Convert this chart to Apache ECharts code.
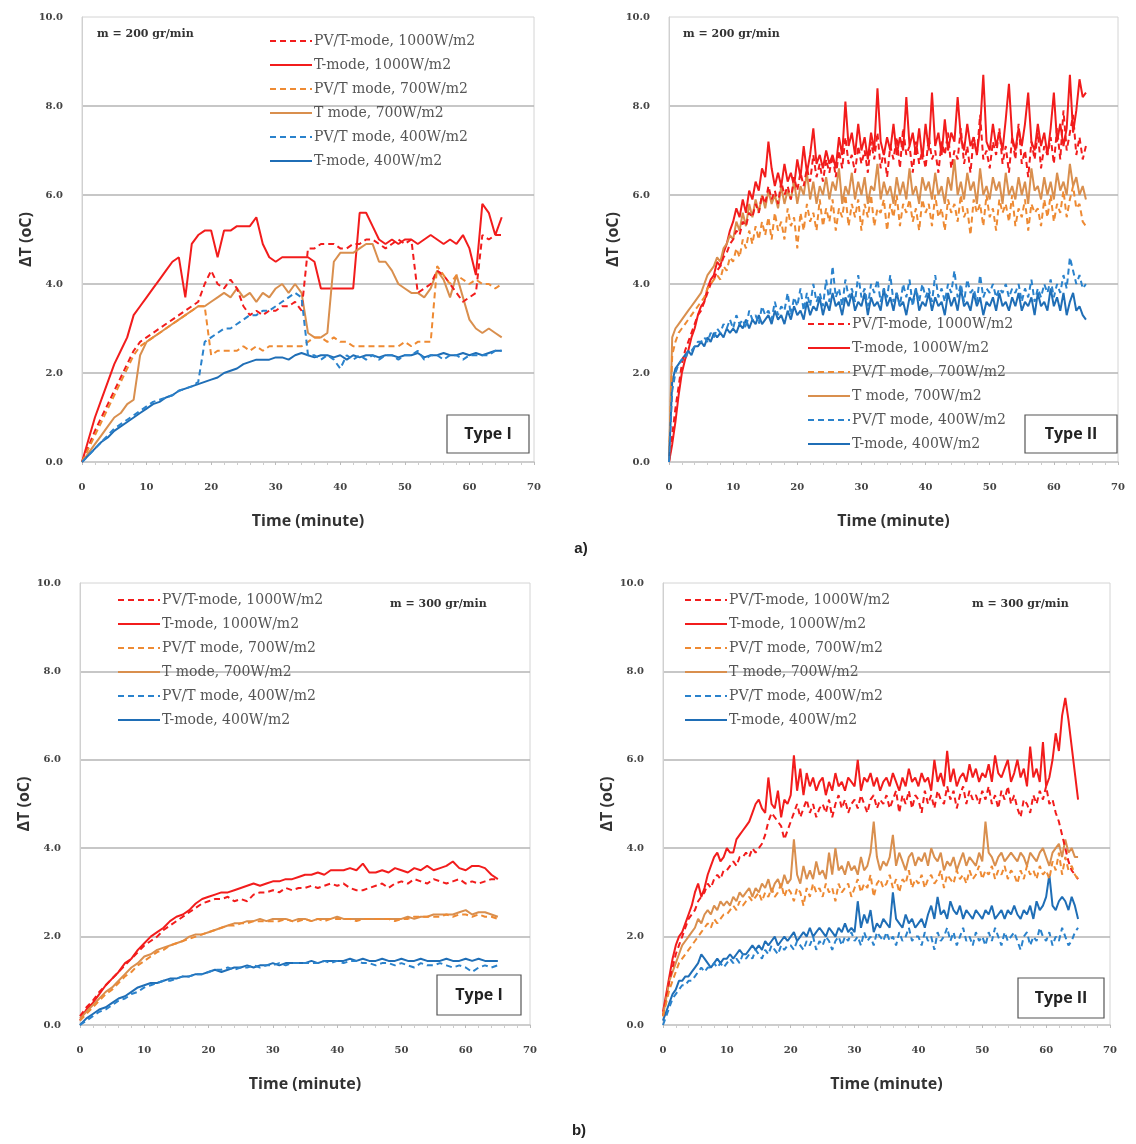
<!DOCTYPE html>
<html>
<head>
<meta charset="utf-8">
<script src="https://cdn.jsdelivr.net/npm/echarts@6/dist/echarts.min.js"></script>
<style>html,body{margin:0;padding:0;background:#fff}#c{width:1136px;height:1144px}</style>
</head>
<body>
<div id="c"></div>
<script>
// ---------- DATA ----------
const seriesNames = ['PV/T-mode, 1000W/m2','T-mode, 1000W/m2','PV/T mode, 700W/m2','T mode, 700W/m2','PV/T mode, 400W/m2','T-mode, 400W/m2'];
const panelNotes = ['m = 200 gr/min','m = 200 gr/min','m = 300 gr/min','m = 300 gr/min'];
const panelTypes = ['Type I','Type II','Type I','Type II'];
const xTicks = [0,10,20,30,40,50,60,70];
const yTicks = [0,2,4,6,8,10];

// time (minute), 1-min step
const timeA = [0,1,2,3,4,5,6,7,8,9,10,11,12,13,14,15,16,17,18,19,20,21,22,23,24,25,26,27,28,29,30,31,32,33,34,35,36,37,38,39,40,41,42,43,44,45,46,47,48,49,50,51,52,53,54,55,56,57,58,59,60,61,62,63,64,65];
// time (minute), 0.5-min step
const timeB = [0,0.5,1,1.5,2,2.5,3,3.5,4,4.5,5,5.5,6,6.5,7,7.5,8,8.5,9,9.5,10,10.5,11,11.5,12,12.5,13,13.5,14,14.5,15,15.5,16,16.5,17,17.5,18,18.5,19,19.5,20,20.5,21,21.5,22,22.5,23,23.5,24,24.5,25,25.5,26,26.5,27,27.5,28,28.5,29,29.5,30,30.5,31,31.5,32,32.5,33,33.5,34,34.5,35,35.5,36,36.5,37,37.5,38,38.5,39,39.5,40,40.5,41,41.5,42,42.5,43,43.5,44,44.5,45,45.5,46,46.5,47,47.5,48,48.5,49,49.5,50,50.5,51,51.5,52,52.5,53,53.5,54,54.5,55,55.5,56,56.5,57,57.5,58,58.5,59,59.5,60,60.5,61,61.5,62,62.5,63,63.5,64,64.5,65];

// (a) Type I, 200 gr/min
const aL_PV1000 = [0.0,0.35,0.7,1.0,1.3,1.6,1.9,2.2,2.5,2.7,2.8, 2.9,3.0,3.1,3.2,3.3,3.4,3.5,3.6,4.0,4.3,4.0, 3.9,4.1,3.9,3.5,3.3,3.4,3.3,3.4,3.4,3.5,3.5, 3.6,3.4,4.8,4.8,4.9,4.9,4.9,4.8,4.8,4.9,4.9, 5.0,5.0,4.9,4.8,4.9,5.0,4.9,5.0,3.8,3.9,4.0, 4.3,4.2,4.0,3.8,3.6,3.7,3.8,5.1,5.0,5.1,5.1];
const aL_T1000 = [0.0,0.5,1.0,1.4,1.8,2.2,2.5,2.8,3.3,3.5,3.7, 3.9,4.1,4.3,4.5,4.6,3.7,4.9,5.1,5.2,5.2,4.6, 5.2,5.2,5.3,5.3,5.3,5.5,4.9,4.6,4.5,4.6,4.6, 4.6,4.6,4.6,4.5,3.9,3.9,3.9,3.9,3.9,3.9,5.6, 5.6,5.3,5.0,4.9,5.0,4.9,5.0,5.0,4.9,5.0,5.1, 5.0,4.9,5.0,4.9,5.1,4.8,4.2,5.8,5.6,5.1,5.5];
const aL_PV700 = [0.0,0.3,0.6,0.9,1.2,1.5,1.8,2.1,2.4,2.6,2.7, 2.8,2.9,3.0,3.1,3.2,3.3,3.4,3.5,3.5,2.4,2.5, 2.5,2.5,2.5,2.6,2.5,2.6,2.5,2.6,2.6,2.6,2.6, 2.6,2.6,2.7,2.8,2.8,2.7,2.8,2.7,2.7,2.6,2.6, 2.6,2.6,2.6,2.6,2.6,2.6,2.7,2.6,2.7,2.7,2.7, 4.4,4.2,4.0,4.2,4.1,4.0,4.1,4.0,4.0,3.9,4.0];
const aL_T700 = [0.0,0.2,0.4,0.6,0.8,1.0,1.1,1.3,1.4,2.4,2.7, 2.8,2.9,3.0,3.1,3.2,3.3,3.4,3.5,3.5,3.6,3.7, 3.8,3.7,3.9,3.7,3.8,3.6,3.8,3.7,3.9,4.0,3.8, 4.0,3.8,2.9,2.8,2.8,2.9,4.5,4.7,4.7,4.7,4.8, 4.9,4.9,4.5,4.5,4.3,4.0,3.9,3.8,3.8,3.7,3.9, 4.3,4.1,3.7,4.2,3.7,3.2,3.0,2.9,3.0,2.9,2.8];
const aL_PV400 = [0.0,0.15,0.3,0.45,0.6,0.75,0.85,0.95,1.05,1.15,1.25, 1.35,1.4,1.45,1.5,1.6,1.65,1.7,1.8,2.7,2.8,2.9, 3.0,3.0,3.1,3.2,3.3,3.3,3.4,3.4,3.5,3.6,3.7, 3.8,3.7,2.4,2.4,2.3,2.4,2.3,2.1,2.4,2.3,2.4, 2.3,2.4,2.3,2.4,2.4,2.3,2.4,2.4,2.5,2.3,2.4, 2.4,2.3,2.4,2.4,2.3,2.4,2.4,2.4,2.4,2.5,2.5];
const aL_T400 = [0.0,0.15,0.3,0.45,0.55,0.7,0.8,0.9,1.0,1.1,1.2, 1.3,1.35,1.45,1.5,1.6,1.65,1.7,1.75,1.8,1.85,1.9, 2.0,2.05,2.1,2.2,2.25,2.3,2.3,2.3,2.35,2.35,2.3, 2.4,2.45,2.4,2.35,2.4,2.4,2.35,2.4,2.3,2.4,2.35, 2.4,2.4,2.35,2.4,2.4,2.35,2.4,2.4,2.45,2.35,2.4, 2.4,2.45,2.4,2.4,2.45,2.4,2.45,2.4,2.45,2.5,2.5];

// (a) Type II, 200 gr/min
const aR_PV1000 = [0.0,0.6,1.2,1.7,2.2,2.5,2.7,2.9,3.1,3.3, 3.4,3.6,3.8,4.0,4.1,4.3,4.4,4.6,4.7,4.9, 5.0,5.2,5.1,5.4,5.3,5.6,5.5,5.8,5.6,6.0, 5.8,6.2,5.9,6.1,5.8,6.3,6.0,6.2,5.9,6.4, 6.1,6.5,6.2,6.6,6.3,6.9,6.4,6.7,6.3,6.8, 6.5,6.9,6.4,7.0,6.6,7.3,6.7,6.9,6.5,7.1, 6.7,7.0,6.5,7.2,6.8,7.4,6.6,7.0,6.4,7.1, 6.8,7.3,6.6,7.5,6.9,7.1,6.5,7.2,6.7,7.0, 6.6,7.3,6.8,7.0,6.5,7.2,6.9,7.4,6.6,7.0, 6.8,7.5,6.7,7.1,6.5,7.3,6.9,7.8,6.8,7.0, 6.6,7.2,6.9,7.5,6.7,7.1,6.5,7.3,6.8,7.6, 6.7,7.0,6.4,7.2,6.8,7.4,6.6,7.1,6.9,7.3, 6.7,7.5,6.8,7.9,7.0,7.4,7.8,6.9,7.3,6.8, 7.1];
const aR_T1000 = [0.0,0.4,0.9,1.5,2.0,2.3,2.5,2.8,3.0,3.3, 3.5,3.6,3.9,4.1,4.2,4.5,4.4,4.7,4.9,5.2, 5.4,5.7,5.5,5.9,5.6,6.1,5.9,6.3,6.1,6.6, 6.4,7.2,6.6,6.2,6.5,6.2,6.7,6.3,6.5,6.2, 6.8,6.4,7.1,6.5,6.9,7.5,6.7,6.9,6.6,7.0, 6.7,6.9,6.6,7.3,6.9,8.1,7.1,7.4,6.9,7.6, 7.0,7.3,6.8,7.4,7.0,8.4,7.2,6.9,7.3,7.0, 7.6,6.9,7.3,7.0,8.2,7.1,7.4,6.9,7.5,6.8, 7.6,7.0,8.3,7.1,7.4,6.9,7.7,7.0,7.4,7.2, 8.2,7.3,7.0,7.6,7.1,7.3,6.9,7.5,8.7,7.2, 7.0,7.6,7.1,7.4,7.0,7.7,8.5,7.3,7.0,7.5, 7.1,7.6,8.3,7.2,7.0,7.6,7.1,7.4,6.9,7.5, 8.3,7.2,7.6,7.1,7.5,8.7,7.4,7.9,8.6,8.2, 8.3];
const aR_PV700 = [0.0,2.4,2.7,2.9,3.0,3.1,3.2,3.3,3.4,3.5, 3.6,3.7,3.9,4.0,4.1,4.2,4.1,4.4,4.3,4.6, 4.5,4.8,4.6,5.0,4.8,5.2,4.9,5.3,5.0,5.4, 5.1,5.5,5.0,5.6,5.2,5.4,5.0,5.7,5.3,5.5, 4.8,5.6,5.2,5.8,5.4,5.6,5.2,5.9,5.3,5.7, 5.4,5.9,5.2,5.7,5.5,6.0,5.3,5.8,5.5,5.9, 5.2,5.8,5.5,6.0,5.3,5.7,5.6,5.9,5.2,5.8, 5.5,6.0,5.3,5.8,5.6,5.9,5.4,5.7,5.2,5.9, 5.6,5.8,5.3,6.0,5.5,5.7,5.2,5.9,5.6,5.8, 5.4,6.0,5.5,5.7,5.1,5.9,5.6,5.8,5.3,6.0, 5.5,5.7,5.2,5.9,5.6,5.8,5.4,6.0,5.3,5.7, 5.5,5.9,5.2,5.8,5.6,5.7,5.3,5.9,5.5,6.0, 5.4,5.8,5.6,6.1,5.5,5.9,6.2,5.7,5.8,5.4, 5.3];
const aR_T700 = [0.0,2.8,3.0,3.1,3.2,3.3,3.4,3.5,3.6,3.7, 3.8,4.0,4.2,4.3,4.4,4.6,4.5,4.8,4.9,5.1, 5.0,5.4,5.2,5.6,5.3,5.8,5.5,5.9,5.6,6.0, 5.7,6.1,5.8,6.0,5.7,6.2,5.8,6.1,5.9,6.3, 5.8,6.2,6.0,6.5,5.9,6.3,5.8,6.2,6.0,6.4, 5.9,6.3,6.1,6.6,5.8,6.2,6.0,6.5,5.9,6.3, 6.0,6.4,5.8,6.2,6.1,6.7,5.9,6.3,6.0,6.2, 5.8,6.4,6.0,6.3,5.9,6.6,6.0,6.2,5.8,6.4, 6.1,6.3,5.9,6.5,6.0,6.2,5.8,6.4,6.1,6.8, 6.0,6.3,5.9,6.5,6.1,6.3,5.8,6.6,6.0,6.2, 5.9,6.4,6.1,6.3,5.8,6.5,6.0,6.2,5.9,6.4, 6.0,6.3,5.8,6.6,6.1,6.2,5.9,6.4,6.0,6.3, 5.9,6.5,6.1,6.3,6.0,6.7,6.2,6.4,6.0,6.2, 5.9];
const aR_PV400 = [0.0,1.6,2.0,2.2,2.3,2.3,2.5,2.5,2.6,2.7, 2.7,2.8,2.7,2.9,2.8,3.0,2.9,3.1,3.0,3.2, 3.0,3.3,3.1,3.2,3.0,3.4,3.2,3.3,3.1,3.5, 3.3,3.4,3.2,3.6,3.3,3.5,3.4,3.8,3.3,3.7, 3.5,3.9,3.4,3.8,3.5,4.0,3.6,3.8,3.5,4.1, 3.6,4.4,3.7,3.9,3.5,4.1,3.7,3.9,3.6,4.2, 3.7,3.9,3.5,4.0,3.8,4.1,3.6,3.9,3.7,4.2, 3.6,3.8,3.5,4.0,3.7,4.1,3.5,3.9,3.6,4.0, 3.7,3.9,3.6,4.2,3.7,3.9,3.6,4.0,3.8,4.3, 3.7,4.0,3.6,4.1,3.8,3.9,3.6,4.2,3.7,3.9, 3.8,4.0,3.7,3.9,3.8,4.0,3.7,3.9,3.8,4.0, 3.6,3.9,3.7,4.1,3.6,3.9,3.7,4.0,3.8,4.1, 3.7,4.0,3.8,4.2,3.9,4.6,4.3,4.0,4.2,3.9, 4.0];
const aR_T400 = [0.0,1.8,2.1,2.2,2.3,2.4,2.5,2.4,2.6,2.6, 2.7,2.6,2.8,2.7,2.9,2.8,2.9,2.8,3.0,2.9, 3.0,2.9,3.1,3.0,3.2,3.0,3.2,3.1,3.3,3.1, 3.2,3.3,3.1,3.4,3.2,3.3,3.1,3.4,3.2,3.5, 3.3,3.4,3.2,3.6,3.3,3.5,3.4,3.7,3.3,3.6, 3.4,3.8,3.5,3.6,3.3,3.7,3.5,3.8,3.4,3.6, 3.5,3.8,3.3,3.7,3.5,3.6,3.4,3.9,3.5,3.7, 3.4,3.8,3.5,3.6,3.3,3.7,3.6,3.9,3.4,3.6, 3.5,3.8,3.4,3.7,3.5,3.6,3.3,3.8,3.5,3.7, 3.4,3.9,3.5,3.6,3.4,3.8,3.5,3.7,3.3,3.6, 3.5,3.7,3.4,3.8,3.5,3.6,3.4,3.7,3.5,3.8, 3.4,3.6,3.5,3.7,3.3,3.8,3.5,3.6,3.4,3.9, 3.5,3.7,3.4,3.8,3.3,3.6,3.8,3.4,3.5,3.3, 3.2];

// (b) Type I, 300 gr/min
const bL_PV1000 = [0.2,0.4,0.55,0.75,0.9,1.05,1.2,1.35,1.5,1.65,1.8, 1.9,2.0,2.15,2.25,2.35,2.45,2.55,2.65,2.75,2.8,2.85, 2.85,2.9,2.8,2.85,2.8,2.95,3.0,3.0,3.05,3.0,3.1, 3.05,3.1,3.1,3.15,3.1,3.15,3.2,3.15,3.2,3.1,3.05, 3.05,3.1,3.15,3.2,3.1,3.2,3.25,3.2,3.3,3.25,3.2, 3.3,3.25,3.2,3.25,3.3,3.2,3.25,3.2,3.25,3.3,3.3];
const bL_T1000 = [0.1,0.35,0.5,0.7,0.9,1.05,1.2,1.4,1.5,1.7,1.85, 2.0,2.1,2.2,2.35,2.45,2.5,2.6,2.75,2.85,2.9,2.95, 3.0,3.0,3.05,3.1,3.15,3.2,3.15,3.2,3.25,3.25,3.3, 3.3,3.35,3.4,3.4,3.45,3.4,3.5,3.5,3.5,3.55,3.5, 3.65,3.45,3.45,3.5,3.45,3.55,3.5,3.45,3.55,3.5,3.6, 3.5,3.55,3.6,3.7,3.55,3.5,3.6,3.6,3.55,3.4,3.3];
const bL_PV700 = [0.1,0.25,0.4,0.55,0.7,0.8,0.95,1.1,1.2,1.35,1.45, 1.55,1.65,1.7,1.8,1.85,1.9,1.95,2.0,2.05,2.1,2.15, 2.2,2.25,2.25,2.3,2.3,2.35,2.35,2.35,2.35,2.35,2.4, 2.35,2.35,2.4,2.35,2.4,2.35,2.4,2.4,2.4,2.4,2.35, 2.4,2.4,2.4,2.4,2.4,2.35,2.4,2.4,2.45,2.45,2.45, 2.45,2.45,2.5,2.45,2.5,2.5,2.45,2.5,2.45,2.45,2.4];
const bL_T700 = [0.15,0.3,0.45,0.6,0.75,0.85,1.0,1.15,1.3,1.4,1.55, 1.6,1.7,1.75,1.8,1.85,1.9,2.0,2.05,2.05,2.1,2.15, 2.2,2.25,2.3,2.3,2.35,2.35,2.4,2.35,2.4,2.4,2.4, 2.35,2.4,2.4,2.35,2.4,2.4,2.4,2.45,2.4,2.4,2.4, 2.4,2.4,2.4,2.4,2.4,2.4,2.4,2.45,2.4,2.45,2.45, 2.5,2.5,2.5,2.5,2.55,2.6,2.5,2.55,2.55,2.5,2.45];
const bL_PV400 = [0.0,0.1,0.2,0.3,0.35,0.45,0.55,0.6,0.7,0.75,0.85, 0.9,0.95,1.0,1.0,1.05,1.1,1.1,1.15,1.15,1.2,1.25, 1.25,1.3,1.25,1.3,1.3,1.35,1.3,1.35,1.35,1.4,1.35, 1.4,1.4,1.4,1.4,1.4,1.45,1.4,1.45,1.4,1.45,1.45, 1.4,1.4,1.35,1.4,1.4,1.35,1.4,1.35,1.3,1.4,1.35, 1.35,1.4,1.35,1.3,1.35,1.3,1.2,1.3,1.35,1.3,1.35];
const bL_T400 = [0.0,0.15,0.25,0.35,0.4,0.5,0.6,0.65,0.75,0.85,0.9, 0.95,0.95,1.0,1.05,1.05,1.1,1.1,1.15,1.15,1.2,1.25, 1.2,1.25,1.3,1.3,1.35,1.3,1.35,1.35,1.4,1.35,1.4, 1.4,1.4,1.4,1.45,1.4,1.45,1.45,1.45,1.45,1.5,1.45, 1.5,1.45,1.45,1.5,1.45,1.45,1.5,1.45,1.45,1.5,1.45, 1.45,1.45,1.5,1.45,1.45,1.5,1.45,1.5,1.45,1.45,1.45];

// (b) Type II, 300 gr/min
const bR_PV1000 = [0.2,0.6,1.0,1.3,1.6,1.8,2.0,2.2,2.4,2.5, 2.6,2.8,2.9,3.0,3.2,3.1,3.3,3.4,3.3,3.5, 3.5,3.6,3.7,3.6,3.8,3.8,3.9,3.8,4.0,3.9, 4.0,4.1,4.3,4.6,4.8,4.7,4.6,4.5,4.2,4.4, 4.6,4.8,5.0,4.7,4.9,5.1,4.8,5.0,4.7,4.9, 5.0,4.8,5.1,4.7,5.0,5.2,4.9,5.1,4.8,5.0, 5.1,4.9,5.2,5.0,4.8,5.1,5.2,4.9,5.1,5.0, 5.2,4.9,5.1,5.3,4.8,5.2,5.0,5.3,4.9,5.2, 5.1,4.8,5.3,5.0,5.2,4.9,5.3,5.1,5.0,5.4, 5.1,5.3,4.9,5.2,5.4,5.0,5.3,5.1,5.2,5.0, 5.3,5.1,5.4,5.0,5.2,4.9,5.3,5.1,5.4,5.0, 5.2,4.9,4.7,5.1,5.0,4.8,5.2,5.0,5.3,5.1, 5.4,5.0,5.1,4.8,4.6,4.3,4.0,3.7,3.5,3.4, 3.3];
const bR_T1000 = [0.3,0.7,1.1,1.5,1.8,2.0,2.1,2.3,2.5,2.7, 3.0,3.2,2.9,3.1,3.4,3.6,3.8,3.9,3.7,3.8, 4.0,3.9,3.9,4.2,4.3,4.4,4.5,4.6,4.8,5.0, 5.1,4.9,4.8,5.6,5.0,4.9,5.3,4.7,5.1,5.0, 5.2,6.1,5.3,5.8,5.2,5.7,5.4,5.6,5.3,5.5, 5.6,5.2,5.5,5.3,5.7,5.4,5.5,5.3,5.6,5.5, 5.4,6.0,5.3,5.6,5.5,5.7,5.4,5.6,5.3,5.5, 5.6,5.4,5.7,5.5,5.3,5.6,5.4,5.8,5.5,5.6, 5.4,5.7,5.5,5.6,5.3,6.0,5.5,5.7,5.4,6.2, 5.5,5.8,5.4,5.6,5.7,5.5,5.9,5.6,5.8,5.5, 5.7,5.6,5.9,5.5,6.1,5.7,5.6,5.8,6.0,5.5, 5.7,6.0,5.6,5.8,5.4,6.3,5.6,5.8,5.5,6.4, 5.4,5.6,6.0,6.6,6.2,7.0,7.4,6.9,6.3,5.7, 5.1];
const bR_PV700 = [0.2,0.5,0.8,1.0,1.2,1.4,1.5,1.6,1.7,1.8, 1.9,2.0,2.1,2.2,2.3,2.2,2.4,2.3,2.4,2.5, 2.5,2.6,2.7,2.6,2.8,2.7,2.8,2.9,2.8,2.9, 3.0,2.8,3.0,2.9,3.1,2.9,3.0,3.2,2.9,3.1, 3.0,2.8,3.1,3.0,2.7,3.1,2.9,3.2,3.0,3.1, 2.9,3.2,3.0,3.1,2.8,3.2,3.0,3.1,3.2,2.9, 3.1,3.3,3.0,3.2,3.1,3.4,2.9,3.2,3.3,3.1, 3.2,3.4,3.1,3.3,3.0,3.3,3.2,3.5,3.1,3.3, 3.2,3.4,3.1,3.3,3.4,3.2,3.3,3.5,3.1,3.4, 3.3,3.2,3.5,3.3,3.4,3.2,3.5,3.3,3.4,3.6, 3.3,3.5,3.4,3.6,3.3,3.5,3.4,3.6,3.3,3.5, 3.4,3.2,3.5,3.3,3.6,3.4,3.5,3.3,3.6,3.4, 3.5,3.3,3.7,3.5,3.9,3.4,3.8,3.5,3.6,3.4, 3.3];
const bR_T700 = [0.2,0.6,1.0,1.2,1.4,1.6,1.8,1.9,2.0,2.1, 2.2,2.4,2.3,2.5,2.6,2.5,2.7,2.6,2.8,2.7, 2.8,2.7,2.9,2.8,3.0,2.9,3.0,3.1,2.9,3.1, 3.0,3.2,3.1,3.3,3.0,3.2,3.3,3.1,3.4,3.2, 3.3,4.2,3.4,3.2,3.6,3.3,3.5,3.3,3.7,3.4, 3.5,3.3,3.9,3.4,4.0,3.5,3.6,3.4,3.7,3.5, 3.6,3.4,3.8,3.5,3.6,3.9,4.6,3.8,3.5,3.7, 3.6,3.8,4.3,3.6,3.9,3.7,3.5,3.8,3.9,3.6, 3.8,3.7,3.9,3.6,4.0,3.8,3.7,3.9,3.5,3.7, 3.6,3.8,3.5,3.7,3.9,3.6,3.8,3.7,3.6,3.9, 3.7,4.6,3.9,3.8,3.6,3.8,3.9,3.7,3.8,3.9, 3.8,3.7,3.9,3.8,3.6,3.9,3.8,3.7,3.9,4.0, 3.8,3.6,3.9,4.0,4.1,3.8,4.2,3.9,4.0,3.8, 3.8];
const bR_PV400 = [0.0,0.2,0.4,0.6,0.7,0.8,0.9,0.9,1.0,1.0, 1.1,1.2,1.3,1.2,1.3,1.3,1.4,1.3,1.4,1.3, 1.4,1.5,1.4,1.5,1.4,1.6,1.5,1.6,1.5,1.7, 1.6,1.5,1.7,1.6,1.8,1.7,1.6,1.8,1.7,1.8, 1.8,1.7,1.9,1.8,1.7,1.9,1.8,2.0,1.7,1.9, 1.8,2.0,1.9,1.7,1.9,2.0,1.8,2.0,1.9,2.1, 1.9,2.0,1.8,2.1,1.9,2.0,1.8,2.1,2.0,1.9, 2.1,1.9,2.0,1.8,2.1,1.9,2.0,2.2,1.9,2.0, 2.0,1.8,2.1,1.9,2.0,1.7,2.1,1.9,2.0,2.2, 1.9,2.1,1.8,2.0,2.2,1.9,2.0,1.8,2.1,1.9, 2.0,1.8,2.1,1.9,2.2,2.0,1.8,2.1,1.9,2.0, 2.1,1.9,1.7,2.0,2.1,1.8,2.0,1.9,2.2,2.0, 1.9,2.1,1.8,2.0,1.9,2.2,2.0,1.8,1.9,2.1, 2.2];
const bR_T400 = [0.1,0.3,0.5,0.7,0.8,1.0,1.0,1.1,1.1,1.2, 1.3,1.4,1.6,1.5,1.4,1.3,1.4,1.5,1.4,1.5, 1.5,1.6,1.5,1.6,1.7,1.6,1.6,1.7,1.8,1.7, 1.8,1.7,1.9,1.8,1.9,2.0,1.8,1.9,2.0,1.9, 2.0,2.1,1.9,2.0,2.1,2.0,2.2,2.0,2.1,2.2, 2.1,2.0,2.2,2.1,2.0,2.2,2.1,2.3,2.1,2.2, 2.1,2.8,2.2,2.5,2.3,2.6,2.1,2.3,2.2,2.4, 2.3,2.2,3.0,2.4,2.3,2.2,2.5,2.3,2.4,2.2, 2.3,2.4,2.2,2.5,2.7,2.4,2.9,2.5,2.6,2.4, 2.8,2.6,2.5,2.7,2.4,2.6,2.5,2.4,2.6,2.5, 2.4,2.6,2.5,2.7,2.4,2.5,2.6,2.4,2.6,2.5, 2.7,2.5,2.4,2.6,2.5,2.7,2.4,2.8,2.6,2.7, 2.9,3.4,2.7,2.6,2.8,2.9,2.8,2.6,2.9,2.7, 2.4];

// ---------- CHART ----------
const panels = [
  {time: timeA, sets: [aL_PV1000, aL_T1000, aL_PV700, aL_T700, aL_PV400, aL_T400]},
  {time: timeB, sets: [aR_PV1000, aR_T1000, aR_PV700, aR_T700, aR_PV400, aR_T400]},
  {time: timeA, sets: [bL_PV1000, bL_T1000, bL_PV700, bL_T700, bL_PV400, bL_T400]},
  {time: timeB, sets: [bR_PV1000, bR_T1000, bR_PV700, bR_T700, bR_PV400, bR_T400]}
];
const colors = ['#f21c1c','#f21c1c','#ee8a33','#d98f4e','#2a82cc','#1f6eb6'];
const dashed = [true,false,true,false,true,false];

const grids = [
  {left: 82, top: 17, width: 452, height: 445},
  {left: 669, top: 17, width: 449, height: 445},
  {left: 80, top: 583, width: 450, height: 442},
  {left: 663, top: 583, width: 447, height: 442}
];
const yNameGap = [43, 48, 44, 48];
const legendPos = [{left: 264, top: 29}, {left: 802, top: 312}, {left: 112, top: 588}, {left: 679, top: 588}];
const notePos = [[97, 36], [683, 36], [390, 606], [972, 606]];
const typeBox = [[447, 415, 82, 38], [1025, 415, 92, 38], [437, 975, 84, 40], [1018, 978, 86, 40]];

function pairs(t, v) { const out = []; for (let i = 0; i < v.length; i++) out.push([t[i], v[i]]); return out; }

const series = [];
panels.forEach((p, pi) => {
  p.sets.forEach((vals, k) => {
    series.push({
      name: seriesNames[k], type: 'line', xAxisIndex: pi, yAxisIndex: pi,
      data: pairs(p.time, vals), symbol: 'none', showSymbol: false, animation: false,
      lineStyle: {color: colors[k], width: 2, type: dashed[k] ? [6, 4] : 'solid'},
      itemStyle: {color: colors[k]}, z: dashed[k] ? 3 : 2
    });
  });
});

const graphic = [];
notePos.forEach((pos, i) => {
  graphic.push({type: 'text', left: pos[0], top: pos[1] - 7,
    style: {text: panelNotes[i], font: 'bold 11px "DejaVu Serif"', fill: '#333'}});
});
typeBox.forEach((b, i) => {
  graphic.push({type: 'rect', shape: {x: b[0], y: b[1], width: b[2], height: b[3]},
    style: {fill: '#fff', stroke: '#555', lineWidth: 1.2}, z: 10});
  graphic.push({type: 'text', x: b[0] + b[2] / 2, y: b[1] + b[3] / 2, z: 11,
    style: {text: panelTypes[i], font: 'bold 16px "Open Sans"', fill: '#222', align: 'center', verticalAlign: 'middle'}});
});
graphic.push({type: 'text', x: 581, y: 549, style: {text: 'a)', font: 'bold 15px "Liberation Sans"', fill: '#222', align: 'center', verticalAlign: 'middle'}});
graphic.push({type: 'text', x: 579, y: 1131, style: {text: 'b)', font: 'bold 15px "Liberation Sans"', fill: '#222', align: 'center', verticalAlign: 'middle'}});

const option = {
  backgroundColor: '#fff',
  animation: false,
  grid: grids.map(g => Object.assign({show: true, borderColor: '#d4d4d4', borderWidth: 1, backgroundColor: 'transparent'}, g)),
  xAxis: grids.map((g, i) => ({
    type: 'value', gridIndex: i, min: xTicks[0], max: xTicks[xTicks.length - 1], interval: 10,
    axisLine: {show: true, onZero: false, lineStyle: {color: '#c4c4c4', width: 1.5}},
    axisTick: {show: true, inside: false, length: 3, lineStyle: {color: '#bbb'}},
    minorTick: {show: true, splitNumber: 5, length: 3, lineStyle: {color: '#ccc'}},
    axisLabel: {fontSize: 10, fontWeight: 'bold', color: '#444', margin: 20, fontFamily: 'DejaVu Serif'},
    splitLine: {show: false},
    name: 'Time (minute)', nameLocation: 'middle', nameGap: 51,
    nameTextStyle: {fontSize: 16, fontWeight: 'bold', color: '#333', fontFamily: 'Open Sans'}
  })),
  yAxis: grids.map((g, i) => ({
    type: 'value', gridIndex: i, min: yTicks[0], max: yTicks[yTicks.length - 1], interval: 2,
    axisLine: {show: true, lineStyle: {color: '#d0d0d0'}},
    axisTick: {show: false},
    splitLine: {show: true, showMinLine: false, showMaxLine: false, lineStyle: {color: '#b4b4b4', width: 1.5}},
    axisLabel: {fontSize: 10, fontWeight: 'bold', color: '#444', margin: 19, fontFamily: 'DejaVu Serif', formatter: v => v.toFixed(1)},
    name: 'ΔT (oC)', nameLocation: 'middle', nameGap: yNameGap[i], nameRotate: 90,
    nameTextStyle: {fontSize: 16, fontWeight: 'bold', color: '#333', fontFamily: 'Open Sans'}
  })),
  legend: legendPos.map(pos => ({
    data: seriesNames, orient: 'vertical', left: pos.left, top: pos.top,
    itemWidth: 42, itemHeight: 12, itemGap: 10, selectedMode: false,
    itemStyle: {opacity: 0, borderWidth: 0},
    textStyle: {fontFamily: 'DejaVu Serif', fontSize: 14, color: '#555', padding: [0, 0, 0, -3]}
  })),
  series: series,
  graphic: graphic
};

const chart = echarts.init(document.getElementById('c'), null, {renderer: 'canvas'});
chart.setOption(option);
</script>
</body>
</html>
